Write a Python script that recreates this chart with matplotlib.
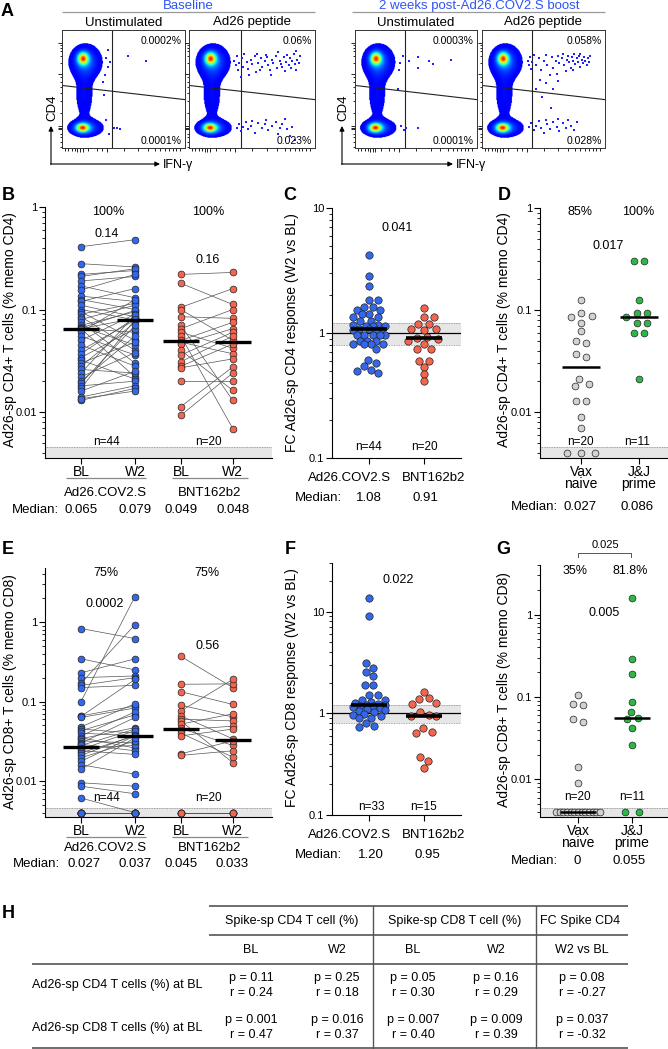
import numpy as np
import matplotlib
matplotlib.use('Agg')
import matplotlib.pyplot as plt
from matplotlib.colors import ListedColormap
from matplotlib.ticker import FixedLocator, LogLocator, NullFormatter, FuncFormatter

plt.rcParams['font.family'] = ['Liberation Sans', 'DejaVu Sans']

BLUE = '#3468EC'
RED = '#F4654F'
GREEN = '#2DB845'
GREY = '#D2D2D2'
LOD = 0.004          # plotted value for non-responders
LOD_LINE = 0.00456   # detection limit line

# ---------------- A: flow plots (positions inside each plot, 0-1) ----------------
flow_titles = ["Baseline", "2 weeks post-Ad26.COV2.S boost"]
flow_sub = ["Unstimulated", "Ad26 peptide"]
flow_pct_top = ["0.0002%", "0.06%", "0.0003%", "0.058%"]
flow_pct_bot = ["0.0001%", "0.023%", "0.0001%", "0.028%"]
# populations: centre x, centre y, spread x, spread y, weight
flow_pops = [(0.17, 0.76, 0.03, 0.035, 1.0), (0.19, 0.73, 0.075, 0.085, 0.3),
             (0.165, 0.17, 0.035, 0.025, 1.0), (0.19, 0.17, 0.08, 0.045, 0.3),
             (0.18, 0.45, 0.05, 0.14, 0.12)]
ev_unstim_bl = [(0.36, 0.76), (0.39, 0.73), (0.37, 0.69), (0.54, 0.78), (0.68, 0.74), (0.42, 0.17),
                (0.45, 0.17), (0.47, 0.16), (0.35, 0.62), (0.37, 0.83), (0.36, 0.24), (0.38, 0.12),
                (0.34, 0.45), (0.33, 0.56)]
ev_pep_bl = [(0.36, 0.74), (0.37, 0.70), (0.38, 0.78), (0.39, 0.66), (0.40, 0.72), (0.42, 0.76),
             (0.43, 0.69), (0.44, 0.80), (0.46, 0.73), (0.47, 0.67), (0.49, 0.75), (0.50, 0.71),
             (0.52, 0.78), (0.53, 0.64), (0.55, 0.72), (0.57, 0.76), (0.58, 0.69), (0.60, 0.74),
             (0.61, 0.79), (0.63, 0.70), (0.64, 0.66), (0.66, 0.75), (0.67, 0.72), (0.69, 0.78),
             (0.70, 0.68), (0.72, 0.74), (0.73, 0.71), (0.75, 0.77), (0.76, 0.65), (0.77, 0.73),
             (0.79, 0.70), (0.80, 0.76), (0.81, 0.68), (0.82, 0.74), (0.83, 0.80), (0.84, 0.71),
             (0.85, 0.66), (0.86, 0.75), (0.87, 0.72), (0.88, 0.78), (0.74, 0.69), (0.78, 0.79),
             (0.71, 0.81), (0.65, 0.62), (0.56, 0.66), (0.48, 0.62), (0.41, 0.60), (0.85, 0.82),
             (0.62, 0.77), (0.54, 0.80),
             (0.38, 0.17), (0.40, 0.20), (0.41, 0.14), (0.43, 0.18), (0.45, 0.22), (0.47, 0.16),
             (0.49, 0.19), (0.52, 0.13), (0.55, 0.21), (0.58, 0.17), (0.61, 0.24), (0.63, 0.15),
             (0.66, 0.19), (0.69, 0.22), (0.71, 0.12), (0.74, 0.20), (0.76, 0.25), (0.78, 0.16),
             (0.80, 0.10), (0.82, 0.18), (0.84, 0.07), (0.72, 0.17), (0.60, 0.20), (0.50, 0.23)]
ev_unstim_w2 = [(0.44, 0.74), (0.52, 0.77), (0.52, 0.68), (0.61, 0.74), (0.64, 0.71), (0.79, 0.75),
                (0.42, 0.17), (0.52, 0.17), (0.37, 0.72), (0.39, 0.78), (0.36, 0.66), (0.38, 0.19),
                (0.40, 0.15), (0.35, 0.50)]
ev_pep_w2 = [(0.37, 0.74), (0.38, 0.70), (0.39, 0.77), (0.40, 0.67), (0.41, 0.73), (0.42, 0.79),
             (0.44, 0.70), (0.46, 0.76), (0.48, 0.66), (0.50, 0.74), (0.52, 0.79), (0.53, 0.70),
             (0.55, 0.62), (0.57, 0.77), (0.58, 0.68), (0.60, 0.74), (0.62, 0.78), (0.63, 0.72),
             (0.65, 0.76), (0.66, 0.80), (0.67, 0.70), (0.69, 0.75), (0.70, 0.78), (0.71, 0.73),
             (0.72, 0.68), (0.73, 0.77), (0.74, 0.74), (0.75, 0.80), (0.76, 0.71), (0.77, 0.76),
             (0.78, 0.73), (0.79, 0.78), (0.80, 0.69), (0.81, 0.75), (0.82, 0.72), (0.83, 0.77),
             (0.84, 0.74), (0.85, 0.70), (0.86, 0.76), (0.87, 0.73), (0.88, 0.78), (0.80, 0.80),
             (0.74, 0.66), (0.68, 0.65), (0.61, 0.63), (0.47, 0.58), (0.52, 0.55), (0.58, 0.50),
             (0.44, 0.50), (0.62, 0.57), (0.49, 0.43), (0.56, 0.34),
             (0.38, 0.18), (0.40, 0.21), (0.42, 0.15), (0.44, 0.19), (0.46, 0.23), (0.48, 0.17),
             (0.50, 0.13), (0.53, 0.20), (0.55, 0.16), (0.58, 0.22), (0.61, 0.18), (0.63, 0.14),
             (0.66, 0.21), (0.68, 0.17), (0.70, 0.24), (0.72, 0.19), (0.75, 0.15), (0.77, 0.22),
             (0.62, 0.25), (0.52, 0.24)]
flow_events = [ev_unstim_bl, ev_pep_bl, ev_unstim_w2, ev_pep_w2]

# ---------------- B: Ad26-sp CD4 (% memo CD4), paired BL -> W2 ----------------
b_ad_bl = [0.41, 0.28, 0.22, 0.21, 0.19, 0.17, 0.155, 0.135, 0.125, 0.12, 0.11, 0.1, 0.095, 0.09,
           0.085, 0.08, 0.075, 0.07, 0.068, 0.066, 0.065, 0.065, 0.065, 0.06, 0.055, 0.05, 0.045,
           0.04, 0.037, 0.034, 0.032, 0.03, 0.028, 0.026, 0.024, 0.022, 0.02, 0.019, 0.018, 0.017,
           0.016, 0.014, 0.013, 0.0135]
b_ad_w2 = [0.48, 0.26, 0.24, 0.25, 0.21, 0.13, 0.22, 0.12, 0.1, 0.16, 0.085, 0.079, 0.05, 0.115,
           0.04, 0.11, 0.03, 0.095, 0.045, 0.098, 0.022, 0.082, 0.06, 0.125, 0.036, 0.09, 0.028,
           0.079, 0.083, 0.065, 0.021, 0.048, 0.075, 0.024, 0.088, 0.038, 0.055, 0.07, 0.02, 0.08,
           0.025, 0.018, 0.017, 0.016]
b_bnt_bl = [0.22, 0.18, 0.105, 0.1, 0.085, 0.07, 0.065, 0.06, 0.055, 0.05, 0.048, 0.046, 0.04,
            0.036, 0.031, 0.028, 0.027, 0.02, 0.0113, 0.0093]
b_bnt_w2 = [0.23, 0.112, 0.16, 0.05, 0.082, 0.013, 0.1, 0.042, 0.0069, 0.075, 0.037, 0.065, 0.0163,
            0.06, 0.055, 0.046, 0.033, 0.02, 0.0275, 0.024]
b_medians = ["0.065", "0.079", "0.049", "0.048"]

# ---------------- C: FC CD4 (W2 vs BL) ----------------
c_ad = [4.2, 2.86, 2.38, 1.82, 1.82, 1.61, 1.61, 1.52, 1.52, 1.41, 1.41, 1.34, 1.34, 1.24, 1.24,
        1.15, 1.15, 1.14, 1.14, 1.14, 1.07, 1.07, 1.065, 1.06, 1.06, 0.965, 0.965, 0.96, 0.96,
        0.96, 0.87, 0.87, 0.87, 0.81, 0.81, 0.81, 0.81, 0.75, 0.61, 0.58, 0.54, 0.51, 0.5, 0.48]
c_bnt = [1.58, 1.34, 1.34, 1.19, 1.19, 1.08, 1.08, 1.05, 0.93, 0.92, 0.9, 0.87, 0.82, 0.74, 0.74,
         0.6, 0.6, 0.535, 0.47, 0.41]
c_medians = ["1.08", "0.91"]

# ---------------- D: Ad26-sp CD4, vax naive vs J&J prime ----------------
d_naive = [0.127, 0.093, 0.087, 0.085, 0.075, 0.062, 0.05, 0.048, 0.037, 0.035, 0.021, 0.019,
           0.018, 0.013, 0.013, 0.009, 0.007, LOD, LOD, LOD]
d_jj = [0.3, 0.3, 0.127, 0.094, 0.094, 0.086, 0.075, 0.075, 0.059, 0.059, 0.021]
d_medians = ["0.027", "0.086"]

# ---------------- E: Ad26-sp CD8 (% memo CD8), paired ----------------
e_ad_bl = [0.83, 0.345, 0.23, 0.2, 0.17, 0.16, 0.15, 0.1, 0.066, 0.065, 0.063, 0.048, 0.045, 0.043,
           0.04, 0.037, 0.035, 0.034, 0.032, 0.03, 0.029, 0.028, 0.026, 0.025, 0.024, 0.0226, 0.021,
           0.0196, 0.0177, 0.016, 0.014, 0.0095, 0.0086, 0.0061] + [LOD] * 10
e_ad_w2 = [0.62, 0.25, 0.345, 0.21, 0.93, 0.2, 0.16, 2.1, 0.088, 0.19, 0.083, 0.094, 0.04, 0.068,
           0.037, 0.074, 0.026, 0.047, 0.03, 0.063, 0.024, 0.045, 0.028, 0.043, 0.0216, 0.037,
           0.038, 0.032, 0.037, 0.0122, 0.035, 0.0086, 0.0069, LOD] + [LOD] * 10
e_bnt_bl = [0.37, 0.165, 0.133, 0.09, 0.076, 0.066, 0.06, 0.057, 0.052, 0.046, 0.044, 0.04, 0.037,
            0.022, 0.021] + [LOD] * 5
e_bnt_w2 = [0.15, 0.167, 0.092, 0.064, 0.19, 0.034, 0.057, 0.017, 0.07, 0.028, 0.049, 0.02, 0.045,
            0.032, 0.024] + [LOD] * 5
e_medians = ["0.027", "0.037", "0.045", "0.033"]

# ---------------- F: FC CD8 (W2 vs BL) ----------------
f_ad = [13.5, 9.1, 3.13, 2.79, 2.55, 2.31, 1.91, 1.91, 1.52, 1.52, 1.36, 1.36, 1.3, 1.25, 1.23,
        1.21, 1.2, 1.19, 1.17, 1.15, 1.12, 1.1, 1.08, 1.06, 1.03, 0.98, 0.96, 0.93, 0.9, 0.89, 0.8,
        0.75, 0.73]
f_bnt = [1.61, 1.41, 1.38, 1.26, 1.24, 1.04, 0.97, 0.95, 0.93, 0.72, 0.66, 0.64, 0.37, 0.34, 0.29]
f_medians = ["1.20", "0.95"]

# ---------------- G: Ad26-sp CD8, vax naive vs J&J prime ----------------
g_naive = [0.107, 0.081, 0.083, 0.05, 0.054, 0.014, 0.0091] + [LOD] * 13
g_jj = [1.58, 0.29, 0.19, 0.086, 0.066, 0.054, 0.055, 0.042, 0.026, LOD, LOD]
g_medians = ["0", "0.055"]

# ---------------- H: correlation table ----------------
tbl_head = ["Spike-sp CD4 T cell (%)", "Spike-sp CD8 T cell (%)", "FC Spike CD4"]
tbl_sub = ["BL", "W2", "BL", "W2", "W2 vs BL"]
tbl_rows = ["Ad26-sp CD4 T cells (%) at BL", "Ad26-sp CD8 T cells (%) at BL"]
tbl_p = [["0.11", "0.25", "0.05", "0.16", "0.08"], ["0.001", "0.016", "0.007", "0.009", "0.037"]]
tbl_r = [["0.24", "0.18", "0.30", "0.29", "-0.27"], ["0.47", "0.37", "0.40", "0.39", "-0.32"]]

W, H = 668, 1049
fig = plt.figure(figsize=(W / 100, H / 100), dpi=100)


def add_ax(l, t, r, b):
    return fig.add_axes([l / W, 1 - b / H, (r - l) / W, (b - t) / H])


flow_cmap = ListedColormap(plt.cm.jet(np.linspace(0.11, 0.9, 256)))


def flow_box(l, r, events, ptop, pbot):
    ax = add_ax(l, 30, r, 148)
    g = np.linspace(0, 1, 200)
    X, Y = np.meshgrid(g, g)
    D = np.zeros_like(X)
    for cx, cy, sx, sy, w in flow_pops:
        D += w * np.exp(-((X - cx) ** 2 / (2 * sx ** 2) + (Y - cy) ** 2 / (2 * sy ** 2)))
    thr = 0.05
    t = np.clip((D - thr) / (D.max() - thr), 0, 1)
    rgba = flow_cmap(t ** 1.2)
    rgba[D < thr] = (1, 1, 1, 0)
    ax.imshow(rgba, extent=(0, 1, 0, 1), origin='lower', aspect='auto', interpolation='bilinear')
    ex = [p[0] for p in events]
    ey = [p[1] for p in events]
    ax.scatter(ex, ey, s=3, marker='s', color='#1f1fff', linewidths=0, zorder=3)
    ax.axvline(0.41, color='#222', lw=0.8)
    ax.plot([0, 1], [0.53, 0.41], color='#222', lw=0.8)
    ax.text(0.975, 0.91, ptop, transform=ax.transAxes, ha='right', va='center', fontsize=7.5)
    ax.text(0.975, 0.02, pbot, transform=ax.transAxes, ha='right', va='bottom', fontsize=7.5)
    ax.set_xlim(0, 1)
    ax.set_ylim(0, 1)
    ax.set_xticks([0.124, 0.146, 0.168, 0.363])
    ax.set_xticks([0.024, 0.051, 0.079, 0.106, 0.214, 0.282, 0.323, 0.5, 0.62, 0.7, 0.76, 0.8,
                   0.84, 0.87, 0.9, 0.93, 0.96], minor=True)
    ax.set_yticks([0.158, 0.172, 0.186, 0.63, 0.89])
    ax.set_yticks([0.01, 0.05, 0.09, 0.12, 0.3, 0.4, 0.47, 0.52, 0.56, 0.6, 0.72, 0.78, 0.82,
                   0.85, 0.87], minor=True)
    ax.tick_params(which='both', labelbottom=False, labelleft=False, direction='out', width=0.6)
    ax.tick_params(which='major', length=3)
    ax.tick_params(which='minor', length=1.8)
    for s in ax.spines.values():
        s.set_linewidth(0.7)
        s.set_color('#333')


def log_axis(ax, ylo, yhi, majors, xlim, xticks, xlabels):
    ax.set_yscale('log')
    ax.set_ylim(ylo, yhi)
    ax.set_xlim(*xlim)
    ax.yaxis.set_major_locator(FixedLocator(majors))
    ax.yaxis.set_major_formatter(FuncFormatter(lambda v, p: '%g' % v))
    ax.yaxis.set_minor_locator(LogLocator(base=10, subs=np.arange(2, 10), numticks=30))
    ax.yaxis.set_minor_formatter(NullFormatter())
    ax.set_xticks(xticks)
    ax.set_xticklabels(xlabels)
    for s in ('top', 'right'):
        ax.spines[s].set_visible(False)
    for s in ('left', 'bottom'):
        ax.spines[s].set_linewidth(0.8)
    ax.tick_params(axis='y', which='major', length=4, width=0.8, labelsize=8, pad=1.5)
    ax.tick_params(axis='y', which='minor', length=2, width=0.6)
    ax.tick_params(axis='x', length=4, width=0.8, labelsize=10, pad=1)
    ax.patch.set_alpha(0)


def lod_band(ax, ylo):
    ax.axhspan(ylo, LOD_LINE, color='#E6E6E6', lw=0, zorder=0)
    ax.axhline(LOD_LINE, color='#888', lw=0.6, ls=(0, (1, 1)), zorder=1)


def fc_band(ax):
    ax.axhspan(0.8, 1.2, color='#E6E6E6', lw=0, zorder=0)
    for v in (0.8, 1.2):
        ax.axhline(v, color='#888', lw=0.6, ls=(0, (1, 1)), zorder=1)
    ax.axhline(1, color='k', lw=0.9, zorder=1)


def paired(ax, x0, x1, bl, w2, col, hw=0.33):
    for a, b in zip(bl, w2):
        ax.plot([x0, x1], [a, b], color='#555', lw=0.5, zorder=2)
    for x, v in ((x0, bl), (x1, w2)):
        ax.scatter(np.full(len(v), x), v, s=24, c=col, edgecolors='#222', linewidths=0.5, zorder=3)
    for x, v in ((x0, bl), (x1, w2)):
        m = np.median(v)
        ax.plot([x - hw, x + hw], [m, m], color='k', lw=2.4, zorder=4, solid_capstyle='butt')


def swarm(ax, xc, vals, d, sx, step, lod_sp, maxw=44, halfw=16):
    v = np.asarray(vals, float)
    pix = ax.transData.transform(np.column_stack([np.full(len(v), xc), v]))
    ys = pix[:, 1]
    unit = ax.transData.transform((xc + 1, v[0]))[0] - pix[0, 0]
    off = np.zeros(len(v))
    at_lod = v <= LOD
    order = [i for i in np.argsort(-v) if not at_lod[i]]
    cands = [0.0] + [s * k * step for k in range(1, 80) for s in (1, -1) if k * step <= halfw]
    placed = []
    for i in order:
        best, best_sc = 0.0, -1.0
        for c in cands:
            sc = min([((c - off[j]) / sx) ** 2 + ((ys[i] - ys[j]) / d) ** 2 for j in placed] + [9])
            if sc >= 1:
                best = c
                break
            if sc > best_sc:
                best, best_sc = c, sc
        off[i] = best
        placed.append(i)
    grp = []
    for i in sorted(order, key=lambda k: ys[k]):
        if grp and ys[i] - ys[grp[-1]] >= d:
            off[grp] = off[grp] - off[grp].mean()
            grp = []
        grp.append(i)
    if grp:
        off[grp] = off[grp] - off[grp].mean()
    li = np.where(at_lod)[0]
    n = len(li)
    if n:
        sp = min(lod_sp, maxw / (n - 1)) if n > 1 else 0
        off[li] = (np.arange(n) - (n - 1) / 2) * sp
    return xc + off / unit


def dots(ax, xc, vals, col, s=28, d=7.3, spread=1.5, step=0.5, med_lw=2.4, hw=0.33):
    xs = swarm(ax, xc, vals, d, spread * d, step * d, 2 * d)
    ax.scatter(xs, vals, s=s, c=col, edgecolors='#222', linewidths=0.5, zorder=3)
    m = np.median(vals)
    ax.plot([xc - hw, xc + hw], [m, m], color='k', lw=med_lw, zorder=4, solid_capstyle='butt')


# ---- A ----
flow_lr = [(62, 185), (189, 315), (355, 477), (482, 605)]
for k, (l, r) in enumerate(flow_lr):
    flow_box(l, r, flow_events[k], flow_pct_top[k], flow_pct_bot[k])

# ---- B ----
pos4 = [0, 1, 1.85, 2.81]
axB = add_ax(45, 207, 272, 458)
log_axis(axB, 0.00356, 1, [0.01, 0.1, 1], (-0.667, 3.537), pos4, ["BL", "W2", "BL", "W2"])
lod_band(axB, 0.00356)
paired(axB, pos4[0], pos4[1], b_ad_bl, b_ad_w2, BLUE)
paired(axB, pos4[2], pos4[3], b_bnt_bl, b_bnt_w2, RED)

# ---- C ----
axC = add_ax(332, 208, 461, 458)
log_axis(axC, 0.1, 10, [0.1, 1, 10], (-0.673, 1.673), [0, 1], [])
fc_band(axC)
dots(axC, 0, c_ad, BLUE, d=7.0, spread=1.1, step=0.25, med_lw=2.6)
dots(axC, 1, c_bnt, RED, d=7.0, spread=1.3, step=0.25, med_lw=2.6)

# ---- D ----
axD = add_ax(540, 208, 668, 458)
log_axis(axD, 0.00356, 1, [0.01, 0.1, 1], (-0.707, 1.5), [0, 1], ["Vax\nnaive", "J&J\nprime"])
lod_band(axD, 0.00356)
dots(axD, 0, d_naive, GREY, s=24, d=7.0, med_lw=1.8)
dots(axD, 1, d_jj, GREEN, s=24, d=7.0, med_lw=1.8)

# ---- E ----
axE = add_ax(45, 568, 272, 817)
log_axis(axE, 0.00352, 4.8, [0.01, 0.1, 1], (-0.667, 3.537), pos4, ["BL", "W2", "BL", "W2"])
lod_band(axE, 0.00352)
paired(axE, pos4[0], pos4[1], e_ad_bl, e_ad_w2, BLUE)
paired(axE, pos4[2], pos4[3], e_bnt_bl, e_bnt_w2, RED)

# ---- F ----
axF = add_ax(332, 563, 461, 815)
log_axis(axF, 0.1, 30, [0.1, 1, 10], (-0.673, 1.673), [0, 1], [])
fc_band(axF)
dots(axF, 0, f_ad, BLUE, d=7.0, spread=1.1, step=0.25, med_lw=2.6)
dots(axF, 1, f_bnt, RED, d=7.0, spread=1.3, step=0.25, med_lw=2.6)

# ---- G ----
axG = add_ax(540, 565, 668, 817)
log_axis(axG, 0.0035, 4.0, [0.01, 0.1, 1], (-0.704, 1.667), [0, 1], ["Vax\nnaive", "J&J\nprime"])
lod_band(axG, 0.0035)
dots(axG, 0, g_naive, GREY, s=24, d=7.0, med_lw=1.8)
dots(axG, 1, g_jj, GREEN, s=24, d=7.0, med_lw=1.8)

for a in (axD, axG):
    for lab in a.get_xticklabels():
        lab.set_linespacing(0.85)

# ---- overlay for free text ----
ov = fig.add_axes([0, 0, 1, 1])
ov.set_xlim(0, W)
ov.set_ylim(H, 0)
ov.axis('off')


def txt(x, y, s, size=9.5, ha='center', **kw):
    ov.text(x, y, s, fontsize=size, ha=ha, va='center', **kw)


def hline(x0, x1, y, c='#888', lw=0.9):
    ov.plot([x0, x1], [y, y], color=c, lw=lw, solid_capstyle='butt')


for lab, (x, y) in zip("ABCDEFGH", [(7, 12), (8, 196), (290, 196), (504, 196), (8, 550),
                                      (290, 550), (503, 550), (8, 913)]):
    txt(x, y, lab, 13, fontweight='bold')

# A titles
txt(188, 6, flow_titles[0], 9.5, color='#2F54F5')
txt(479, 6, flow_titles[1], 9.5, color='#2F54F5')
hline(62, 315, 11.5, c='#999')
hline(352, 605, 11.5, c='#999')
for (l, r), sub in zip(flow_lr, flow_sub * 2):
    txt((l + r) / 2, 22.5, sub, 9.5)
for xa, xl in ((51, 62), (342, 355)):
    txt(xa + 1, 108, "CD4", 9.5, rotation=90)
    ov.annotate('', xy=(xa, 126), xytext=(xa, 164.4),
                arrowprops=dict(arrowstyle='-|>', lw=0.8, color='k', mutation_scale=7,
                                shrinkA=0, shrinkB=0))
    ov.annotate('', xy=(xl + 98, 164), xytext=(xa - 0.4, 164),
                arrowprops=dict(arrowstyle='-|>', lw=0.8, color='k', mutation_scale=7,
                                shrinkA=0, shrinkB=0))
    txt(xl + 101, 165, "IFN-γ", 9, ha='left')

# y labels
for x, y, s in [(10, 330, "Ad26-sp CD4+ T cells (% memo CD4)"),
                (292, 333, "FC Ad26-sp CD4 response (W2 vs BL)"),
                (504, 330, "Ad26-sp CD4+ T cells (% memo CD4)"),
                (10, 692, "Ad26-sp CD8+ T cells (% memo CD8)"),
                (292, 688, "FC Ad26-sp CD8 response (W2 vs BL)"),
                (504, 690, "Ad26-sp CD8+ T cells (% memo CD8)")]:
    txt(x, y, s, 10, rotation=90)

# B annotations
txt(108, 212, "100%", 9)
txt(208, 212, "100%", 9)
txt(107, 234, "0.14", 9)
txt(208, 260, "0.16", 9)
txt(107, 442, "n=44", 8.5)
txt(208, 442, "n=20", 8.5)
hline(66, 146, 478)
hline(172, 248, 478)
txt(106, 493, "Ad26.COV2.S")
txt(210, 493, "BNT162b2")
txt(59, 510, "Median:", ha='right')
for x, s in zip([81, 135, 181, 233], b_medians):
    txt(x, 510, s)

# C annotations
txt(397, 228, "0.041", 9)
txt(369, 447, "n=44", 8.5)
txt(424, 447, "n=20", 8.5)
txt(350, 478, "Ad26.COV2.S")
txt(434, 478, "BNT162b2")
txt(342, 498, "Median:", ha='right')
for x, s in zip([369, 425], c_medians):
    txt(x, 498, s)

# D annotations
txt(580, 212, "85%", 9)
txt(638, 212, "100%", 9)
txt(608, 246, "0.017", 9)
txt(580, 442, "n=20", 8.5)
txt(637, 442, "n=11", 8.5)
txt(558, 507, "Median:", ha='right')
for x, s in zip([580, 637], d_medians):
    txt(x, 507, s)

# E annotations
txt(106, 573, "75%", 9)
txt(207, 573, "75%", 9)
txt(105, 604, "0.0002", 9)
txt(208, 646, "0.56", 9)
txt(107, 798, "n=44", 8.5)
txt(208, 798, "n=20", 8.5)
hline(66, 146, 837)
hline(172, 248, 837)
txt(106, 848, "Ad26.COV2.S")
txt(210, 848, "BNT162b2")
txt(60, 864, "Median:", ha='right')
for x, s in zip([84, 135, 181, 232], e_medians):
    txt(x, 864, s)

# F annotations
txt(398, 580, "0.022", 9)
txt(371, 807, "n=33", 8.5)
txt(424, 807, "n=15", 8.5)
txt(350, 835, "Ad26.COV2.S")
txt(434, 835, "BNT162b2")
txt(342, 855, "Median:", ha='right')
for x, s in zip([371, 427], f_medians):
    txt(x, 855, s)

# G annotations
ov.plot([578, 578, 631, 631], [557, 553, 553, 557], color='#555', lw=0.7)
txt(605, 545, "0.025", 8)
txt(575, 571, "35%", 9)
txt(630, 571, "81.8%", 9)
txt(604, 613, "0.005", 9)
txt(577, 797, "n=20", 8.5)
txt(632, 797, "n=11", 8.5)
txt(558, 861, "Median:", ha='right')
for x, s in zip([577, 629], g_medians):
    txt(x, 861, s)

# H table
LC = '#555'
hline(209, 628, 906, c=LC, lw=1.2)
hline(209, 628, 935, c=LC, lw=1.2)
hline(32, 628, 964, c=LC, lw=1.2)
hline(32, 628, 1047.5, c=LC, lw=1.2)
for x in (373, 536):
    ov.plot([x, x], [906, 1048], color=LC, lw=1.0)
for x, s in zip([292, 455, 580], tbl_head):
    txt(x, 921, s, 9)
col_x = [251, 337, 413, 496, 582]
for x, s in zip(col_x, tbl_sub):
    txt(x, 950, s, 9)
for r, (lab, ps, rs) in enumerate(zip(tbl_rows, tbl_p, tbl_r)):
    yc = 985 + r * 43
    txt(32, yc, lab, 9, ha='left')
    for x, p, rv in zip(col_x, ps, rs):
        txt(x, yc - 7.5, "p = " + p, 9)
        txt(x, yc + 7.5, "r = " + rv, 9)

fig.savefig('out.png', dpi=100)
